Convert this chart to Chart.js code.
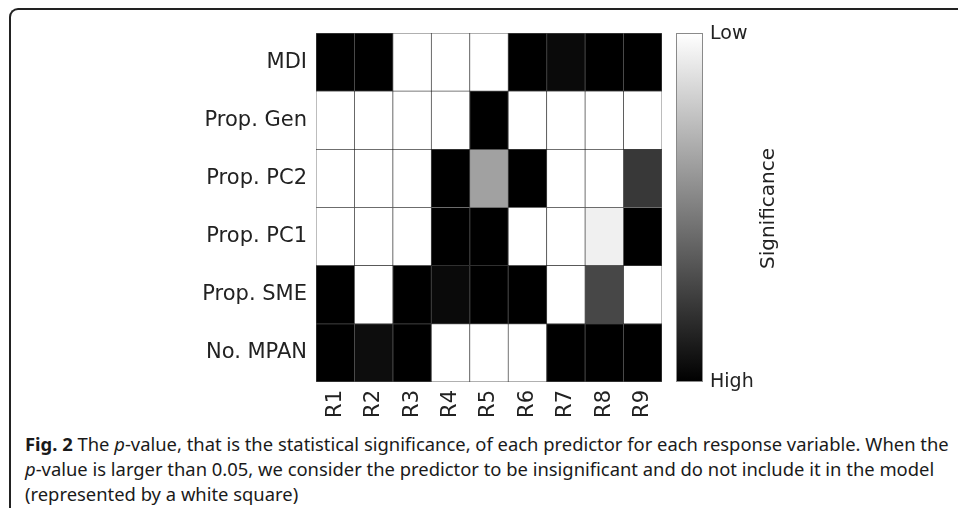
<!DOCTYPE html>
<html>
<head>
<meta charset="utf-8">
<script src="https://cdn.jsdelivr.net/npm/chart.js@4"></script>
<style>
  html, body { margin: 0; padding: 0; background: #fff; }
  body { width: 958px; height: 508px; position: relative; overflow: hidden; }
  .frame {
    position: absolute; left: 9px; top: 8px; width: 1000px; height: 600px;
    border-top: 2px solid #222; border-left: 2px solid #222;
    border-top-left-radius: 9px;
  }
  #wrap { position: absolute; left: 0; top: 0; width: 958px; height: 424px; }
  .caption {
    position: absolute; left: 25px; top: 431px;
    font-family: "Noto Sans", sans-serif; font-size: 18.4px; line-height: 25px; color: #1a1a1a;
  }
  .caption div { white-space: nowrap; }
</style>
</head>
<body>
<div class="frame"></div>
<div id="wrap"><canvas id="heat" width="958" height="424"></canvas></div>
<div class="caption">
  <div><b>Fig. 2</b> The <i>p</i>-value, that is the statistical significance, of each predictor for each response variable. When the</div>
  <div><i>p</i>-value is larger than 0.05, we consider the predictor to be insignificant and do not include it in the model</div>
  <div>(represented by a white square)</div>
</div>
<script>
// response variables (columns) and predictors (rows, top to bottom)
const responses = ["R1", "R2", "R3", "R4", "R5", "R6", "R7", "R8", "R9"];
const predictors = ["MDI", "Prop. Gen", "Prop. PC2", "Prop. PC1", "Prop. SME", "No. MPAN"];

// significance per cell, 1 = high (black), 0 = low (white)
const sigMDI     = [1, 1, 0, 0, 0, 1, 0.96, 1, 1];
const sigPropGen = [0, 0, 0, 0, 1, 0, 0, 0, 0];
const sigPropPC2 = [0, 0, 0, 1, 0.37, 1, 0, 0, 0.78];
const sigPropPC1 = [0, 0, 0, 1, 1, 0, 0, 0.06, 1];
const sigPropSME = [1, 0, 1, 0.96, 1, 1, 0, 0.72, 0];
const sigNoMPAN  = [1, 0.95, 1, 0, 0, 0, 1, 1, 1];

const colorbarLabels = ["Low", "High"];
const colorbarTitle = "Significance";

const rows = [sigMDI, sigPropGen, sigPropPC2, sigPropPC1, sigPropSME, sigNoMPAN];

function grey(s) {
  const v = Math.round(255 * (1 - s));
  return "rgb(" + v + "," + v + "," + v + ")";
}

// stacked bars: first dataset sits at the bottom, so go from the last row up
const bottomUp = predictors.slice().reverse();
const datasets = bottomUp.map((name, i) => {
  const sig = rows[predictors.length - 1 - i];
  return {
    label: name,
    data: responses.map(() => 1),
    backgroundColor: sig.map(grey),
    borderColor: "rgba(0,0,0,0.62)",
    borderWidth: 0.75,
    borderSkipped: false,
    barPercentage: 1,
    categoryPercentage: 1
  };
});

const labelFont = { family: "DejaVu Sans", size: 21 };
const textColor = "#222";

// colour bar on the right of the heatmap
const colorbar = {
  id: "colorbar",
  afterDraw(chart) {
    const { ctx, chartArea } = chart;
    const x = chartArea.right + 14, w = 27;
    const top = chartArea.top, bottom = chartArea.bottom;
    const g = ctx.createLinearGradient(0, top, 0, bottom);
    g.addColorStop(0, "#ffffff");
    g.addColorStop(1, "#000000");
    ctx.save();
    ctx.fillStyle = g;
    ctx.fillRect(x, top, w, bottom - top);
    ctx.strokeStyle = "#8a8a8a";
    ctx.lineWidth = 1;
    ctx.strokeRect(x + 0.5, top + 0.5, w - 1, bottom - top - 1);

    ctx.fillStyle = textColor;
    ctx.font = "19px 'DejaVu Sans'";
    ctx.textAlign = "left";
    ctx.textBaseline = "middle";
    ctx.fillText(colorbarLabels[0], x + w + 7, top + 1);
    ctx.fillText(colorbarLabels[1], x + w + 7, bottom);

    ctx.font = "20px 'DejaVu Sans'";
    ctx.translate(x + w + 66, (top + bottom) / 2 + 1);
    ctx.rotate(-Math.PI / 2);
    ctx.textAlign = "center";
    ctx.fillText(colorbarTitle, 0, 0);
    ctx.restore();
  }
};

new Chart(document.getElementById("heat"), {
  type: "bar",
  data: { labels: responses, datasets: datasets },
  options: {
    responsive: false,
    animation: false,
    layout: { padding: { top: 33, right: 296, left: 0, bottom: 0 } },
    plugins: { legend: { display: false }, tooltip: { enabled: false } },
    scales: {
      x: {
        stacked: true,
        grid: { display: false, drawTicks: false },
        border: { display: false },
        ticks: { color: textColor, font: labelFont, minRotation: 90, maxRotation: 90, padding: 8 },
        afterFit(scale) { scale.height = 42; }
      },
      y: {
        stacked: true,
        min: 0,
        max: predictors.length,
        grid: { display: false, drawTicks: false },
        border: { display: false },
        afterBuildTicks(scale) {
          scale.ticks = bottomUp.map((_, i) => ({ value: i + 0.5 }));
        },
        ticks: {
          color: textColor,
          font: labelFont,
          padding: 9,
          callback: (value) => bottomUp[Math.floor(value)]
        },
        afterFit(scale) { scale.width = 316; }
      }
    }
  },
  plugins: [colorbar]
});
</script>
</body>
</html>
